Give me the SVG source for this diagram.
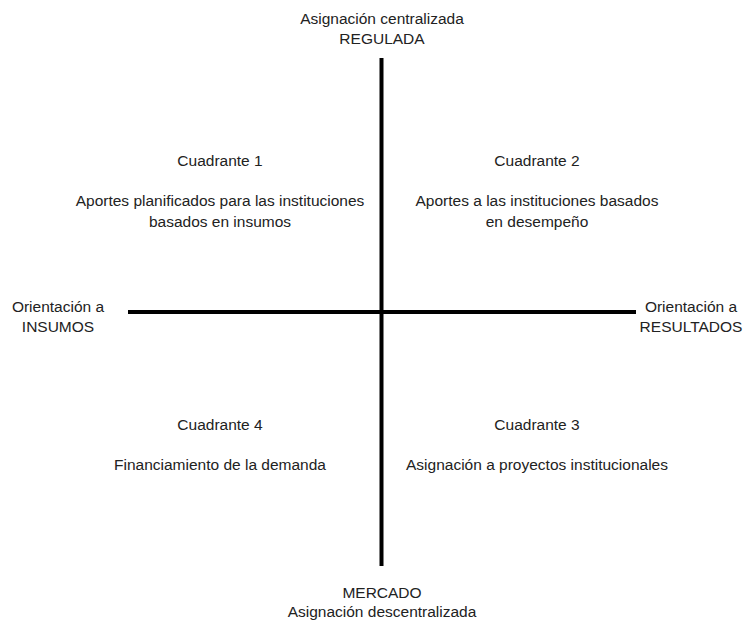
<svg xmlns="http://www.w3.org/2000/svg" width="743" height="623" viewBox="0 0 743 623">
<style>
text{font-family:"Liberation Sans",Arial,sans-serif;font-size:15.5px;fill:#222;text-anchor:middle}
.ax{stroke:#000;stroke-width:4;fill:none}
</style>
<rect width="743" height="623" fill="#fff"/>
<g id="connectors">
<line class="ax" x1="381.5" y1="58" x2="381.5" y2="566"/>
<line class="ax" x1="128" y1="312" x2="636" y2="312"/>
</g>
<g id="top"><text x="382" y="24">Asignación centralizada</text><text x="382" y="44">REGULADA</text></g>
<g id="bottom"><text x="382" y="598">MERCADO</text><text x="382" y="617">Asignación descentralizada</text></g>
<g id="left"><text x="58" y="312">Orientación a</text><text x="58" y="332">INSUMOS</text></g>
<g id="right"><text x="691" y="312">Orientación a</text><text x="691" y="332">RESULTADOS</text></g>
<g id="q1"><text x="220" y="166">Cuadrante 1</text><text x="220" y="206">Aportes planificados para las instituciones</text><text x="220" y="227">basados en insumos</text></g>
<g id="q2"><text x="537" y="166">Cuadrante 2</text><text x="537" y="206">Aportes a las instituciones basados</text><text x="537" y="227">en desempeño</text></g>
<g id="q4"><text x="220" y="430">Cuadrante 4</text><text x="220" y="470">Financiamiento de la demanda</text></g>
<g id="q3"><text x="537" y="430">Cuadrante 3</text><text x="537" y="470">Asignación a proyectos institucionales</text></g>
</svg>
